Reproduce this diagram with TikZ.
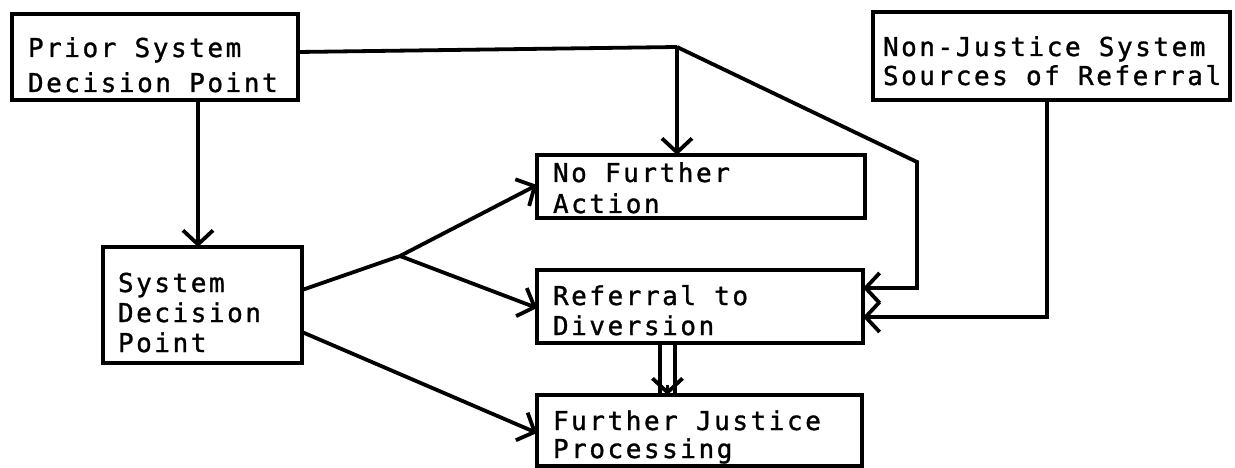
\documentclass[tikz,border=0pt]{standalone}
\usepackage{fontspec}
\setmonofont[LetterSpace=9.8,FakeBold=1.2]{DejaVu Sans Mono}
\usetikzlibrary{arrows.meta}
\newcommand\wsp{\nobreak\hspace{18.2pt}\nobreak}
\newcommand\topst[1]{\rule{0pt}{#1}}
\newcommand\botst[1]{\rule[-#1]{0pt}{#1}}
\tikzset{
  box/.style={draw, line width=4.5pt, align=left, anchor=north west,
    font=\ttfamily\fontsize{26}{#1}\selectfont, inner ysep=0pt, outer sep=0pt},
  conn/.style={line width=3.8pt},
  arr/.style={conn, -{Straight Barb[length=14pt,width=30pt]}}
}
\begin{document}
\begin{tikzpicture}[x=1pt,y=1pt]
\useasboundingbox (0,0) rectangle (1235,-468);
% boxes
\node[box=35pt, inner xsep=16pt, text width=254pt, minimum height=86pt] (prior) at (12,-14)
  {\topst{43pt}Prior\wsp System\\Decision\wsp Point\botst{8pt}};
\node[box=29pt, inner xsep=10pt, text width=337pt, minimum height=88pt] (nj) at (873,-12)
  {\topst{44pt}Non-Justice\wsp System\\Sources\wsp of\wsp Referral\botst{15pt}};
\node[box=31pt, inner xsep=16pt, text width=296pt, minimum height=63pt] (nfa) at (537,-155)
  {\topst{27pt}No\wsp Further\\Action\botst{5pt}};
\node[box=30pt, inner xsep=15pt, text width=169pt, minimum height=116pt] (sdp) at (103,-247)
  {\topst{45pt}System\\Decision\\Point\botst{11pt}};
\node[box=30pt, inner xsep=16pt, text width=294pt, minimum height=73pt] (ref) at (537,-270)
  {\topst{35pt}Referral\wsp to\\Diversion\botst{8pt}};
\node[box=28pt, inner xsep=16pt, text width=293pt, minimum height=71pt] (fjp) at (537,-395)
  {\topst{35pt}Further\wsp Justice\\Processing\botst{8pt}};
% junction and bend points
\coordinate (j1) at (677,-47);
\coordinate (k1) at (917,-162);
\coordinate (k2) at (917,-288);
\coordinate (k3) at (1047,-317);
\coordinate (j2) at (400,-256);
\coordinate (p1) at (198,0);
\coordinate (s1) at (0,-290);
\coordinate (s2) at (0,-332);
\coordinate (d1) at (660,0);
\coordinate (d2) at (675,0);
\coordinate (d3) at (667.5,-385);
% connectors
\draw[conn] ([yshift=5pt]prior.east) -- (j1);
\draw[arr] (j1) -- (j1 |- nfa.north);
\draw[arr] (j1) -- (k1) -- (k2) -- (k2 -| ref.east);
\draw[arr] (nj.south -| k3) -- (k3) -- (k3 -| ref.east);
\draw[arr] (prior.south -| p1) -- (sdp.north -| p1);
\draw[conn] (sdp.east |- s1) -- (j2);
\draw[arr] (j2) -- (nfa.west |- 0,-185);
\draw[arr] (j2) -- (ref.west |- 0,-308);
\draw[arr] (sdp.east |- s2) -- (fjp.west |- 0,-433);
\draw[conn] (ref.south -| d1) -- (fjp.north -| d1);
\draw[conn] (ref.south -| d2) -- (fjp.north -| d2);
\draw[arr] (d3) -- (fjp.north -| d3);
\end{tikzpicture}
\end{document}
